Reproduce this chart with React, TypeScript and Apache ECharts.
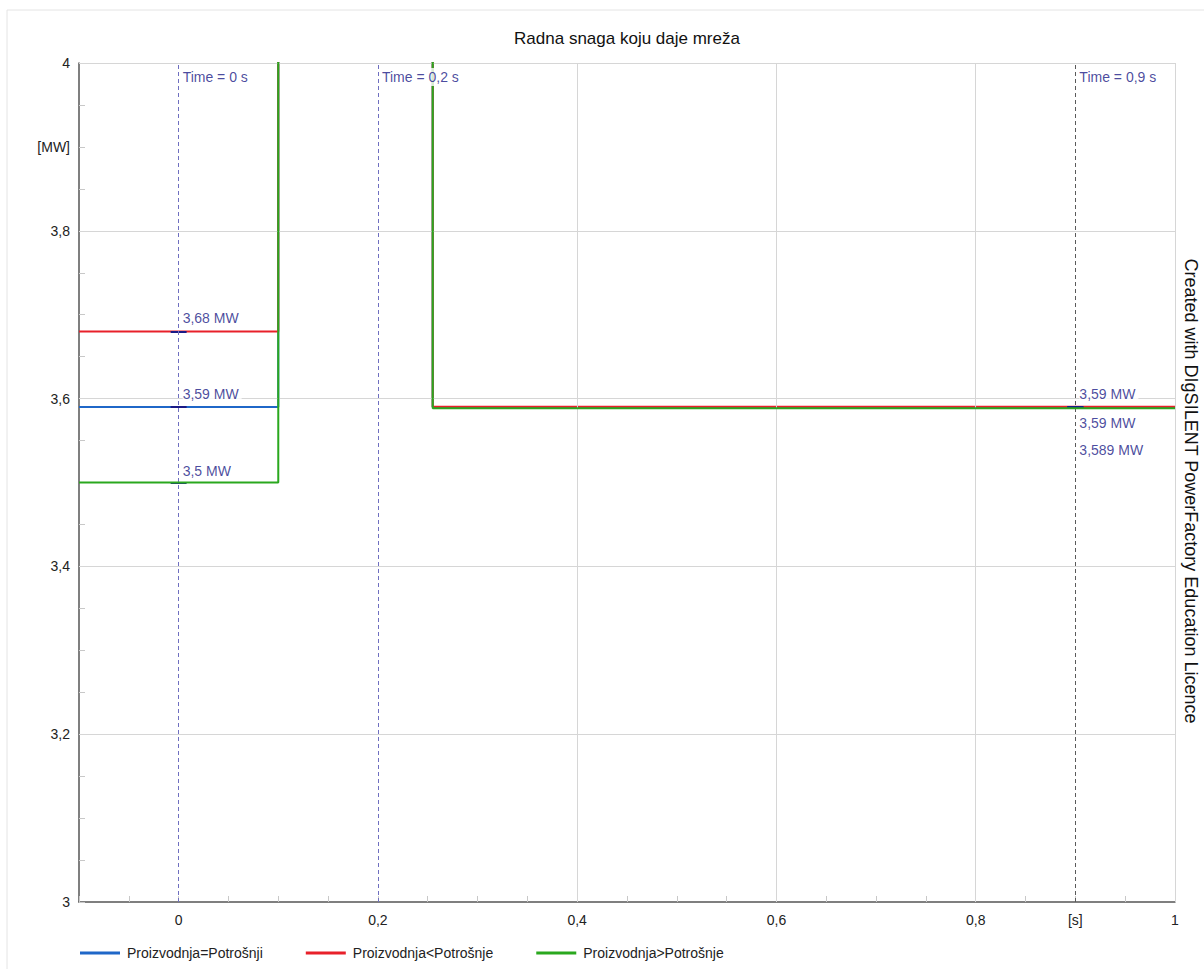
import React, { useEffect, useRef } from 'react';
import * as echarts from 'echarts';

const chartTitle = 'Radna snaga koju daje mreža';
const watermark = 'Created with DIgSILENT PowerFactory Education Licence';
const seriesNames = ['Proizvodnja=Potrošnji', 'Proizvodnja<Potrošnje', 'Proizvodnja>Potrošnje'];
const seriesColors = ['#1f67c8', '#e8202a', '#2aa81e'];
const timeSteps = [-0.1, 0.1, 0.1, 0.255, 0.255, 1];
const equalValues = [3.59, 3.59, 4.6, 4.6, 3.59, 3.59];
const lessValues = [3.68, 3.68, 4.6, 4.6, 3.5904, 3.5904];
const greaterValues = [3.5, 3.5, 4.6, 4.6, 3.5886, 3.5886];
const cursorTimes = [0, 0.2, 0.9];
const cursorColors = ['#6f6fc0', '#6f6fc0', '#5a5a5a'];
const readTimes = [0, 0.9];
const equalReadings = [3.59, 3.59];
const lessReadings = [3.68, 3.5904];
const greaterReadings = [3.5, 3.5886];
const readOffsets = [[-13, 16], [-13, -13], [-12, 42]];
const xGridValues = [0.4, 0.6, 0.8, 1];
const yGridValues = [3.2, 3.4, 3.6, 3.8, 4];
const xUnitTick = 0.9;
const xUnitLabel = '[s]';
const yUnitTick = 3.9;
const yUnitLabel = '[MW]';

const FONT = '"Liberation Sans", Arial, sans-serif';
const NAVY = '#1a1a86';

const fmt = (v: number) => String(Number(v.toFixed(3))).replace('.', ',');
const near = (a: number, b: number) => Math.abs(a - b) < 1e-6;
const isMajor = (v: number) => near(v * 5, Math.round(v * 5));

export default function App() {
  const ref = useRef<HTMLDivElement>(null);
  useEffect(() => {
    if (!ref.current) return;
    const chart = echarts.init(ref.current, null, { renderer: 'svg' });
    const allValues = [equalValues, lessValues, greaterValues];
    const allReadings = [equalReadings, lessReadings, greaterReadings];

    const dataSeries = allValues.map((vals, i) => ({
      name: seriesNames[i],
      type: 'line',
      z: 3 + i,
      symbol: 'none',
      clip: true,
      color: seriesColors[i],
      lineStyle: { color: seriesColors[i], width: 2 },
      data: timeSteps.map((t, k) => [t, vals[k]]),
      markLine: {
        silent: true,
        symbol: 'none',
        label: { show: false },
        lineStyle: { color: NAVY, width: 2, type: 'solid' },
        data: readTimes.map((t, k) => [
          { coord: [t - 0.008, allReadings[i][k]] },
          { coord: [t + 0.008, allReadings[i][k]] },
        ]),
      },
    }));

    const readingLabels = allReadings.flatMap((reads, i) =>
      reads.map((v, k) => ({
        value: [readTimes[k], v],
        label: {
          show: true,
          position: 'right',
          distance: 4,
          offset: [0, readOffsets[i][k]],
          formatter: fmt(v) + ' MW',
          color: NAVY,
          fontSize: 14,
          fontFamily: FONT,
          backgroundColor: '#ffffff',
          padding: [1, 3, 1, 0],
        },
      }))
    );

    const option: any = {
      animation: false,
      backgroundColor: '#ffffff',
      grid: { left: 79, top: 63, right: 29, bottom: 67, containLabel: false },
      legend: {
        data: seriesNames,
        left: 80,
        top: 946,
        padding: 0,
        icon: 'rect',
        itemWidth: 40,
        itemHeight: 3,
        itemGap: 43,
        textStyle: { fontSize: 14, color: '#222', fontFamily: FONT, padding: [0, 0, 0, 2] },
      },
      graphic: [
        {
          type: 'rect',
          shape: { x: 7, y: 10, width: 1300, height: 1100 },
          style: { fill: 'none', stroke: '#e4e4e4', lineWidth: 1 },
          silent: true,
          z: -10,
        },
        {
          type: 'text',
          x: 627,
          y: 38,
          style: {
            text: chartTitle,
            fill: '#111',
            font: `17px ${FONT}`,
            textAlign: 'center',
            textVerticalAlign: 'middle',
          },
        },
        {
          type: 'text',
          x: 1191,
          y: 491,
          rotation: -Math.PI / 2,
          style: {
            text: watermark,
            fill: '#111',
            font: `18px ${FONT}`,
            textAlign: 'center',
            textVerticalAlign: 'middle',
          },
        },
      ],
      xAxis: {
        type: 'value',
        min: -0.1,
        max: 1,
        interval: 0.05,
        axisLine: { show: true, onZero: false, lineStyle: { color: '#555', width: 1.5 } },
        axisTick: { show: true, inside: true, length: 6, lineStyle: { color: '#c8c8c8' } },
        splitLine: { show: false },
        axisLabel: {
          color: '#222',
          fontSize: 14,
          fontFamily: FONT,
          margin: 11,
          showMinLabel: true,
          showMaxLabel: true,
          formatter: (value: number) => {
            const v = Math.round(value * 1000) / 1000;
            if (near(v, xUnitTick)) return xUnitLabel;
            if (v >= 0 && isMajor(v)) return fmt(v);
            return '';
          },
        },
      },
      yAxis: {
        type: 'value',
        min: 3,
        max: 4,
        interval: 0.05,
        axisLine: { show: true, onZero: false, lineStyle: { color: '#555', width: 1.5 } },
        axisTick: { show: true, inside: true, length: 6, lineStyle: { color: '#c8c8c8' } },
        splitLine: { show: false },
        axisLabel: {
          color: '#222',
          fontSize: 14,
          fontFamily: FONT,
          margin: 9,
          showMinLabel: true,
          showMaxLabel: true,
          formatter: (value: number) => {
            const v = Math.round(value * 1000) / 1000;
            if (near(v, yUnitTick)) return yUnitLabel;
            if (isMajor(v)) return fmt(v);
            return '';
          },
        },
      },
      series: [
        {
          name: 'grid',
          type: 'line',
          z: 1,
          symbol: 'none',
          silent: true,
          lineStyle: { opacity: 0 },
          data: [[-0.1, 3]],
          markLine: {
            silent: true,
            symbol: 'none',
            label: { show: false },
            lineStyle: { color: '#d6d6d6', width: 1, type: 'solid' },
            data: [
              ...xGridValues.map((v) => ({ xAxis: v })),
              ...yGridValues.map((v) => ({ yAxis: v })),
            ],
          },
        },
        ...dataSeries,
        {
          name: 'cursors',
          type: 'line',
          z: 7,
          symbol: 'none',
          silent: true,
          lineStyle: { opacity: 0 },
          data: [[-0.1, 3]],
          markLine: {
            silent: true,
            symbol: 'none',
            label: { show: false },
            data: cursorTimes.map((t, i) => ({
              xAxis: t,
              lineStyle: { color: cursorColors[i], width: 1, type: [4, 3] },
            })),
          },
        },
        {
          name: 'cursorLabels',
          type: 'scatter',
          z: 8,
          symbolSize: 0,
          silent: true,
          clip: false,
          data: cursorTimes.map((t) => ({
            value: [t, 4],
            label: {
              show: true,
              position: 'right',
              distance: 4,
              offset: [0, 14],
              formatter: `Time = ${fmt(t)} s`,
              color: NAVY,
              fontSize: 14,
              fontFamily: FONT,
              backgroundColor: '#ffffff',
              padding: [2, 3, 2, 0],
            },
          })),
        },
        {
          name: 'readingLabels',
          type: 'scatter',
          z: 9,
          symbolSize: 0,
          silent: true,
          clip: false,
          data: readingLabels,
        },
      ],
    };
    chart.setOption(option);
    return () => chart.dispose();
  }, []);
  return (
    <div
      ref={ref}
      style={{ position: 'fixed', left: 0, top: 0, width: 1204, height: 969, background: '#fff' }}
    />
  );
}
